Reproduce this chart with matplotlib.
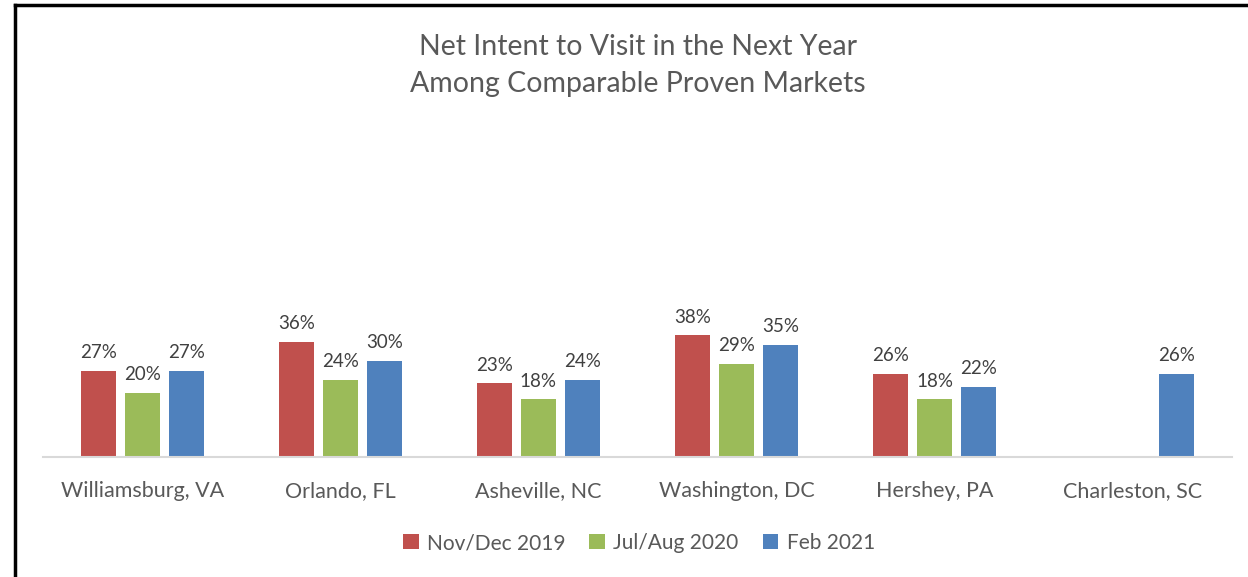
import numpy as np
import matplotlib
matplotlib.use('Agg')
import matplotlib.pyplot as plt
from matplotlib.lines import Line2D

plt.rcParams['font.family'] = ['Lato', 'DejaVu Sans']

markets = ['Williamsburg, VA', 'Orlando, FL', 'Asheville, NC',
           'Washington, DC', 'Hershey, PA', 'Charleston, SC']
nov_dec_2019 = [27, 36, 23, 38, 26, np.nan]
jul_aug_2020 = [20, 24, 18, 29, 18, np.nan]
feb_2021 = [27, 30, 24, 35, 22, 26]
series_names = ['Nov/Dec 2019', 'Jul/Aug 2020', 'Feb 2021']
colors = ['#C0504D', '#9BBB59', '#4F81BD']
txt = '#595959'

W, H = 1248, 577
fig = plt.figure(figsize=(W / 100, H / 100), dpi=100)
ax = fig.add_axes([43 / W, 120 / H, (1232 - 43) / W, 320 / H])

x = np.arange(len(markets))
width = 0.177
offsets = [-0.222, 0, 0.222]
for vals, off, col, name in zip([nov_dec_2019, jul_aug_2020, feb_2021],
                                offsets, colors, series_names):
    bars = ax.bar(x + off, vals, width, color=col, label=name)
    for b, v in zip(bars, vals):
        if np.isnan(v):
            continue
        ax.annotate(f'{v:.0f}%', (b.get_x() + b.get_width() / 2, v),
                    xytext=(0, 7), textcoords='offset points',
                    ha='center', va='bottom', fontsize=13.5, color='#404040')

ax.set_xlim(-0.5, len(markets) - 0.5)
ax.set_ylim(0, 100)
ax.set_xticks(x)
ax.set_xticklabels(markets, fontsize=15.5, color=txt)
ax.tick_params(axis='x', length=0, pad=17)
ax.set_yticks([])
for s in ['top', 'right', 'left']:
    ax.spines[s].set_visible(False)
ax.spines['bottom'].set_color('#D9D9D9')
ax.spines['bottom'].set_linewidth(1.5)

fig.text(0.511, 1 - 47 / H, 'Net Intent to Visit in the Next Year',
         ha='center', va='center', fontsize=20.5, color=txt)
fig.text(0.511, 1 - 84 / H, 'Among Comparable Proven Markets',
         ha='center', va='center', fontsize=20.5, color=txt)

leg = fig.legend(loc='center', bbox_to_anchor=(0.512, 1 - 543 / H),
                 ncol=3, frameon=False, fontsize=15, handlelength=0.75,
                 handleheight=0.75, handletextpad=0.4, columnspacing=1.15)
for t in leg.get_texts():
    t.set_color(txt)

# frame lines of the chart box (left and top only visible)
fig.add_artist(Line2D([14.5 / W, 14.5 / W], [0, 1 - 5 / H], color='black', lw=2.5,
                      transform=fig.transFigure))
fig.add_artist(Line2D([14.5 / W, 1], [1 - 5 / H, 1 - 5 / H], color='black', lw=2.5,
                      transform=fig.transFigure))

fig.savefig('out.png', dpi=100, facecolor='white')
